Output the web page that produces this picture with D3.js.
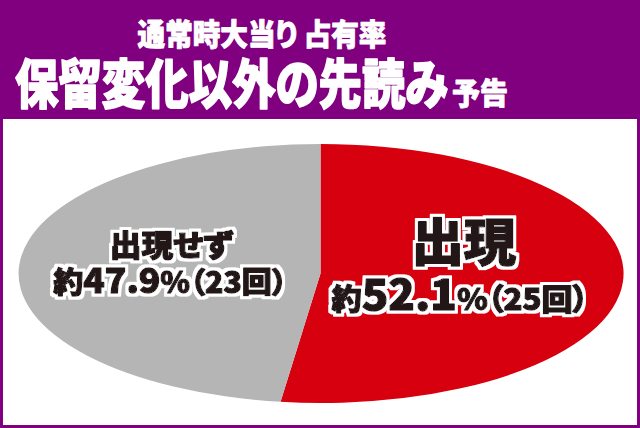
<!DOCTYPE html>
<html><head><meta charset="utf-8">
<script src="https://cdn.jsdelivr.net/npm/d3@7"></script>
<style>
html,body{margin:0;padding:0;background:#fff;}
svg{display:block;}
text{font-family:"Noto Sans CJK JP","Noto Sans",sans-serif;font-weight:900;font-feature-settings:"palt" 1;}
</style></head>
<body>
<svg id="c" width="640" height="428"></svg>
<script>
const titleLine1 = "通常時大当り 占有率";
const titleLine2 = "保留変化以外の先読み";
const titleSuffix = "予告";
const categories = ["出現", "出現せず"];
const values = [52.1, 47.9];
const counts = [25, 23];
const colors = ["#d7000f", "#b5b5b6"];

const W = 640, H = 428;
const svg = d3.select("#c");
const purple = "#800080";
const ink = "#231815";

// outline filter
const defs = svg.append("defs");
const f = defs.append("filter").attr("id","outline").attr("x","-10%").attr("y","-30%").attr("width","120%").attr("height","160%");
f.append("feMorphology").attr("in","SourceAlpha").attr("operator","dilate").attr("radius",3.2).attr("result","d");
f.append("feFlood").attr("flood-color","#fff").attr("result","w");
f.append("feComposite").attr("in","w").attr("in2","d").attr("operator","in").attr("result","o");
const m = f.append("feMerge");
m.append("feMergeNode").attr("in","o");
m.append("feMergeNode").attr("in","SourceGraphic");

// frame
svg.append("rect").attr("x",0).attr("y",0).attr("width",W).attr("height",H).attr("fill",purple);
svg.append("rect").attr("x",3).attr("y",119).attr("width",634).attr("height",306).attr("fill","#fff");

// fit a text horizontally: place so its advance spans `width`, anchored at x (start or middle)
function fit(t, x, y, width, anchor){
  t.attr("x",0).attr("y",0).attr("text-anchor",anchor);
  const len = t.node().getComputedTextLength();
  const s = width/len;
  t.attr("transform",`translate(${x},${y}) scale(${s},1)`);
  return t;
}
function heavy(col, w){
  return svg.append("text").attr("fill",col).attr("stroke",col).attr("stroke-width",w).attr("stroke-linejoin","round");
}

// title
fit(heavy("#fff",0.9).attr("font-size",30).text(titleLine1), 262, 45, 249, "middle");
fit(heavy("#fff",1.6).attr("font-size",54).text(titleLine2), 15, 104, 433, "start");
fit(heavy("#fff",0.9).attr("font-size",30).text(titleSuffix), 452, 104, 56, "start");

// pie as ellipse
const cx = 320.5, cy = 273.5, rx = 302.5, ry = 129.5;
const pie = d3.pie().sort(null).value(d => d.v);
const data = categories.map((c,i)=>({c, v: values[i], n: counts[i], col: colors[i]}));
const arcs = pie(data);
const arc = d3.arc().innerRadius(0).outerRadius(1);
const g = svg.append("g").attr("transform",`translate(${cx},${cy}) scale(${rx},${ry})`);
g.selectAll("path").data(arcs).join("path").attr("d",arc).attr("fill",d=>d.data.col);

// labels
const labelArc = d3.arc().innerRadius(0).outerRadius(0.95);
function label(x, y, width, parts){
  const t = svg.append("text").attr("fill",ink).attr("stroke",ink).attr("stroke-width",1.3)
    .attr("stroke-linejoin","round").attr("filter","url(#outline)");
  parts.forEach(([s,fs])=>t.append("tspan").attr("font-size",fs).text(s));
  return fit(t, x, y, width, "middle");
}
arcs.forEach((a,i)=>{
  const [ux,uy] = labelArc.centroid(a);
  const x = cx + ux*rx, y = cy + uy*ry;
  const d = a.data;
  if(i===0){
    label(x, y-17, 105, [[d.c,51]]);
    label(x-4, y+32, 257, [["約",29],[d.v.toFixed(1),42],["%（"+d.n+"回）",30]]);
  } else {
    label(x-6, y-13, 123, [[d.c,30]]);
    label(x-7, y+24, 234, [["約",29],[d.v.toFixed(1),34],["%（"+d.n+"回）",29]]);
  }
});
</script>
</body></html>
